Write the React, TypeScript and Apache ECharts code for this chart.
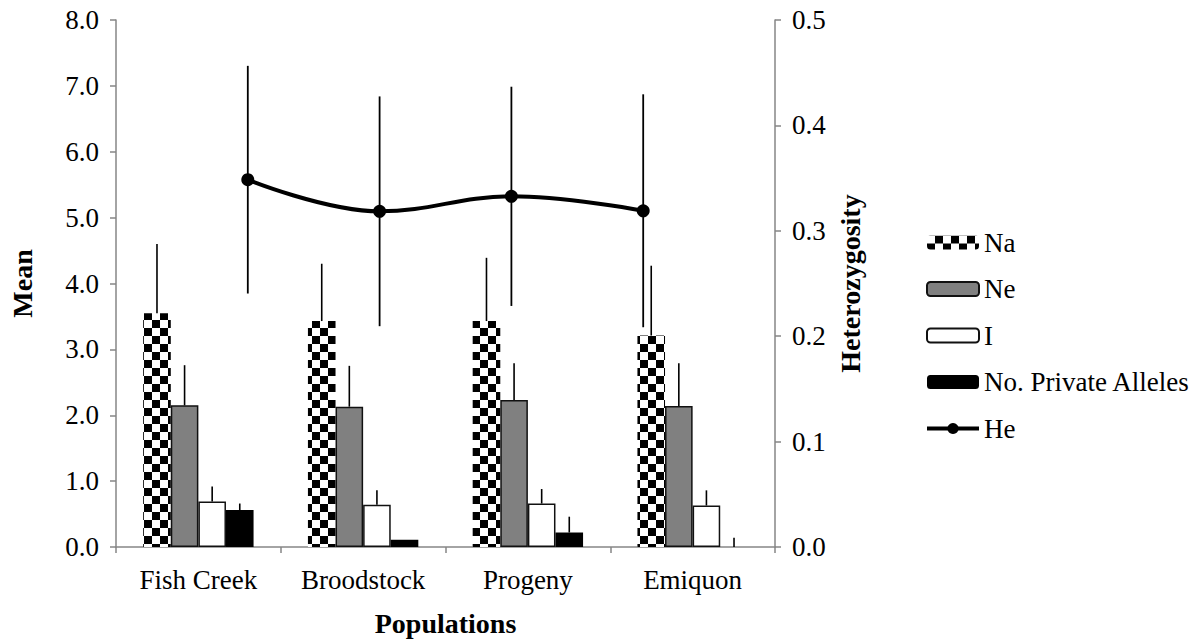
import React, { useEffect, useRef } from "react";
import * as echarts from "echarts";

const categories = ["Fish Creek", "Broodstock", "Progeny", "Emiquon"];
const naValues = [3.55, 3.43, 3.43, 3.21];
const naErrors = [1.05, 0.87, 0.96, 1.06];
const neValues = [2.15, 2.13, 2.23, 2.14];
const neErrors = [0.61, 0.62, 0.56, 0.65];
const iValues = [0.69, 0.64, 0.66, 0.63];
const iErrors = [0.23, 0.22, 0.22, 0.23];
const privValues = [0.56, 0.11, 0.22, 0.0];
const privErrors = [0.1, 0.0, 0.24, 0.14];
const heValues = [0.3485, 0.3185, 0.3327, 0.319];
const heErrors = [0.108, 0.109, 0.104, 0.1105];
const heX = [1, 2, 3, 4];
const meanTicks = [0, 1, 2, 3, 4, 5, 6, 7, 8];
const hetTicks = [0, 0.1, 0.2, 0.3, 0.4, 0.5];

const FONT = "Liberation Serif";
const AXIS_GRAY = "#868686";
const BAR_CATEGORY_GAP = 0.33;

export default function App() {
  const ref = useRef<HTMLDivElement>(null);

  useEffect(() => {
    if (!ref.current) return;
    const chart = echarts.init(ref.current, null, { renderer: "svg" });

    const barSets = [
      { values: naValues, errors: naErrors },
      { values: neValues, errors: neErrors },
      { values: iValues, errors: iErrors },
      { values: privValues, errors: privErrors },
    ];
    const barErrData: number[][] = [];
    barSets.forEach((set, s) => {
      set.values.forEach((v, c) => {
        barErrData.push([c, v, set.errors[c], s]);
      });
    });
    const heData = heX.map((x, i) => [x, heValues[i]]);
    const heErrData = heX.map((x, i) => [x, heValues[i], heErrors[i]]);

    const axisLabelStyle = { color: "#000", fontFamily: FONT, fontSize: 27 };
    const nameStyle = { color: "#000", fontFamily: FONT, fontSize: 28, fontWeight: "bold" as const };

    chart.setOption({
      animation: false,
      backgroundColor: "#fff",
      grid: { left: 105, right: 425, top: 20, bottom: 94, containLabel: false },
      legend: {
        orient: "vertical",
        left: 920,
        top: 224,
        itemWidth: 52,
        itemHeight: 14,
        itemGap: 19.5,
        textStyle: { color: "#000", fontFamily: FONT, fontSize: 27 },
        data: [
          "Na",
          "Ne",
          "I",
          "No. Private Alleles",
          { name: "He", lineStyle: { width: 4 } },
        ],
      },
      xAxis: [
        {
          type: "category",
          data: categories,
          axisLine: { lineStyle: { color: AXIS_GRAY, width: 1.5 } },
          axisTick: { show: true, length: 6, lineStyle: { color: AXIS_GRAY, width: 1.5 } },
          axisLabel: { ...axisLabelStyle, margin: 19 },
          name: "Populations",
          nameLocation: "middle",
          nameGap: 62,
          nameTextStyle: nameStyle,
        },
        { type: "value", min: 0, max: 5, show: false },
      ],
      yAxis: [
        {
          type: "value",
          min: meanTicks[0],
          max: meanTicks[meanTicks.length - 1],
          interval: 1,
          axisLine: { show: true, lineStyle: { color: AXIS_GRAY, width: 1.5 } },
          axisTick: { show: true, length: 6, lineStyle: { color: AXIS_GRAY, width: 1.5 } },
          splitLine: { show: false },
          axisLabel: { ...axisLabelStyle, margin: 17, formatter: (v: number) => v.toFixed(1) },
          name: "Mean",
          nameLocation: "middle",
          nameRotate: 90,
          nameGap: 80,
          nameTextStyle: nameStyle,
        },
        {
          type: "value",
          position: "right",
          min: hetTicks[0],
          max: hetTicks[hetTicks.length - 1],
          interval: 0.1,
          axisLine: { show: true, lineStyle: { color: AXIS_GRAY, width: 1.5 } },
          axisTick: { show: true, length: 6, lineStyle: { color: AXIS_GRAY, width: 1.5 } },
          splitLine: { show: false },
          axisLabel: { ...axisLabelStyle, margin: 17, formatter: (v: number) => v.toFixed(1) },
          name: "Heterozygosity",
          nameLocation: "middle",
          nameRotate: 90,
          nameGap: 52,
          nameTextStyle: nameStyle,
        },
      ],
      series: [
        {
          name: "Na",
          type: "bar",
          data: naValues,
          barGap: "0%",
          barCategoryGap: BAR_CATEGORY_GAP * 100 + "%",
          itemStyle: {
            color: "#fff",
            decal: {
              symbol: "rect",
              symbolSize: 1,
              color: "#000",
              dashArrayX: [[8, 8], [0, 8, 8, 0]],
              dashArrayY: [8, 0],
              rotation: 0,
            },
          },
        },
        {
          name: "Ne",
          type: "bar",
          data: neValues,
          barGap: "0%",
          barCategoryGap: BAR_CATEGORY_GAP * 100 + "%",
          itemStyle: { color: "#808080", borderColor: "#111", borderWidth: 1.5 },
        },
        {
          name: "I",
          type: "bar",
          data: iValues,
          barGap: "0%",
          barCategoryGap: BAR_CATEGORY_GAP * 100 + "%",
          itemStyle: { color: "#fff", borderColor: "#111", borderWidth: 1.5 },
        },
        {
          name: "No. Private Alleles",
          type: "bar",
          data: privValues,
          barGap: "0%",
          barCategoryGap: BAR_CATEGORY_GAP * 100 + "%",
          itemStyle: { color: "#000" },
        },
        {
          name: "barErrors",
          type: "custom",
          xAxisIndex: 0,
          yAxisIndex: 0,
          data: barErrData,
          z: 5,
          renderItem: (params: any, api: any) => {
            const cat = api.value(0);
            const v = api.value(1);
            const e = api.value(2);
            const s = api.value(3);
            if (!(e > 0)) return null;
            const band = api.size([1, 0])[0];
            const bw = (band * (1 - BAR_CATEGORY_GAP)) / 4;
            const p0 = api.coord([cat, v]);
            const p1 = api.coord([cat, v + e]);
            const x = p0[0] + (s - 1.5) * bw;
            return {
              type: "line",
              shape: { x1: x, y1: p0[1], x2: x, y2: p1[1] },
              style: { stroke: "#000", lineWidth: 1.6 },
            };
          },
        },
        {
          name: "heErrors",
          type: "custom",
          xAxisIndex: 1,
          yAxisIndex: 1,
          data: heErrData,
          z: 6,
          renderItem: (params: any, api: any) => {
            const x = api.value(0);
            const v = api.value(1);
            const e = api.value(2);
            const p0 = api.coord([x, v - e]);
            const p1 = api.coord([x, v + e]);
            return {
              type: "line",
              shape: { x1: p0[0], y1: p0[1], x2: p1[0], y2: p1[1] },
              style: { stroke: "#000", lineWidth: 1.8 },
            };
          },
        },
        {
          name: "He",
          type: "line",
          xAxisIndex: 1,
          yAxisIndex: 1,
          data: heData,
          smooth: 0.4,
          symbol: "circle",
          symbolSize: 13,
          z: 7,
          lineStyle: { color: "#000", width: 4 },
          itemStyle: { color: "#000" },
        },
      ],
    });

    return () => chart.dispose();
  }, []);

  return <div ref={ref} style={{ width: 1200, height: 642, position: "absolute", left: 0, top: 0 }} />;
}
